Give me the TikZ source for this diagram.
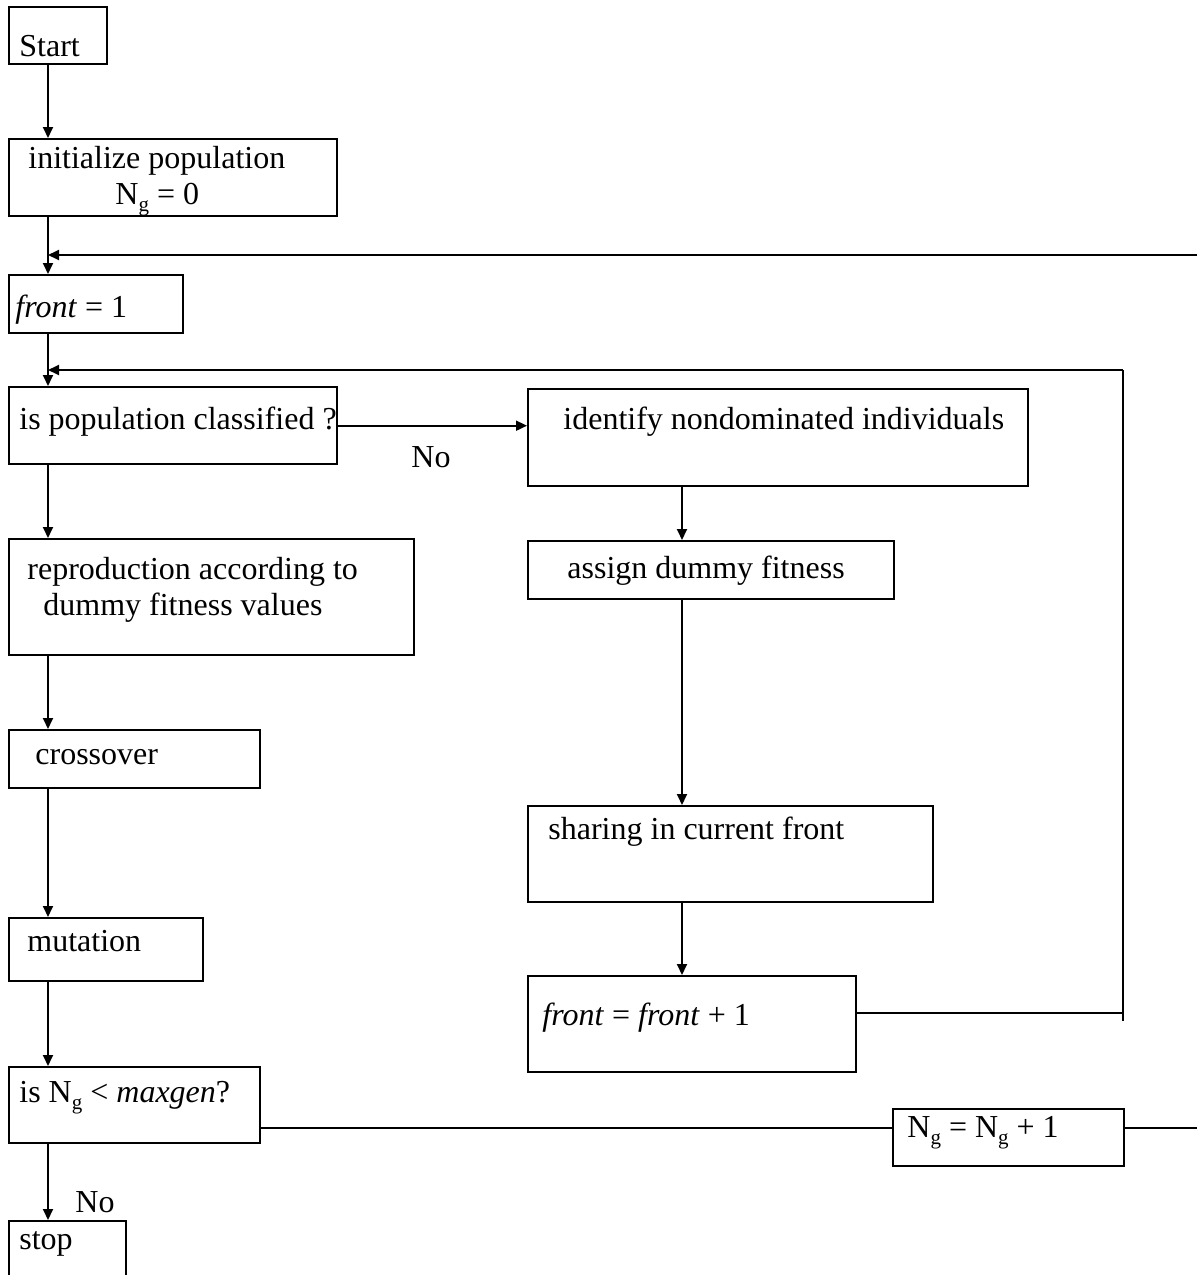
\documentclass[tikz,border=0pt]{standalone}
\usepackage{fontspec}
\setmainfont{Liberation Serif}
\usetikzlibrary{arrows.meta}
\newcommand{\Ng}{N\raisebox{-0.24em}{\fontsize{10.5}{12}\selectfont g}}
\begin{document}
\begin{tikzpicture}[x=0.5pt,y=-0.5pt,
  box/.style={draw, line width=1.2pt, inner sep=0pt, anchor=north west},
  txt/.style={anchor=base west, inner sep=0pt, font=\fontsize{16}{19}\selectfont},
  arr/.style={line width=0.9pt, -{Triangle[length=5.5pt,width=5pt]}},
  conn/.style={line width=0.9pt}]
\clip (0,0) rectangle (1197,1275);
\fill[white] (0,0) rectangle (1197,1275);
% column coordinates
\coordinate (colL) at (48,0);
\coordinate (colR) at (682,0);
% boxes
\node[box, minimum width=49pt, minimum height=28.5pt] (start) at (8,6) {};
\node[box, minimum width=164pt, minimum height=38.5pt] (init) at (8,138) {};
\node[box, minimum width=87pt, minimum height=29pt] (front1) at (8,274) {};
\node[box, minimum width=164pt, minimum height=38.5pt] (cls) at (8,386) {};
\node[box, minimum width=202.5pt, minimum height=58pt] (repro) at (8,538) {};
\node[box, minimum width=125.5pt, minimum height=29pt] (cross) at (8,729) {};
\node[box, minimum width=97pt, minimum height=31.5pt] (mut) at (8,917) {};
\node[box, minimum width=125.5pt, minimum height=38pt] (isng) at (8,1066) {};
\node[box, minimum width=58.5pt, minimum height=40pt] (stop) at (8,1220) {};
\node[box, minimum width=250pt, minimum height=48.5pt] (ident) at (527,388) {};
\node[box, minimum width=183pt, minimum height=29pt] (assign) at (527,540) {};
\node[box, minimum width=202.5pt, minimum height=48pt] (share) at (527,805) {};
\node[box, minimum width=164pt, minimum height=48pt] (fp1) at (527,975) {};
\node[box, minimum width=115.5pt, minimum height=28.5pt] (ngp) at (892,1108) {};
% texts
\node[txt] (tStart) at (19,56) {Start};
\node[txt] (tInit) at (28,168) {initialize population};
\node[txt] (tInit2) at (115,204) {\Ng{} = 0};
\node[txt] (tFront1) at (15,317) {\textit{front} = 1};
\node[txt] (tCls) at (19,429) {is population classified ?};
\node[txt] (tNo1) at (411,467) {No};
\node[txt] (tRepro) at (27,579) {reproduction according to};
\node[txt] (tRepro2) at (43,615) {dummy fitness values};
\node[txt] (tCross) at (35,764) {crossover};
\node[txt] (tMut) at (27,951) {mutation};
\node[txt] (tIsng) at (19,1102) {is \Ng{} < \textit{maxgen}?};
\node[txt] (tNo2) at (75,1212) {No};
\node[txt] (tStop) at (19,1249) {stop};
\node[txt] (tIdent) at (563,429) {identify nondominated individuals};
\node[txt] (tAssign) at (567,578) {assign dummy fitness};
\node[txt] (tShare) at (548,839) {sharing in current front};
\node[txt] (tFp1) at (542,1025) {\textit{front} = \textit{front} + 1};
\node[txt] (tNgp) at (907,1137) {\Ng{} = \Ng{} + 1};
% loop coordinates
\coordinate (topR) at (1197,255);
\coordinate (topL) at (48,255);
\coordinate (inR) at (1123,370);
\coordinate (inL) at (48,370);
\coordinate (inB) at (1123,1021);
\coordinate (fpR) at (1123,1013);
\coordinate (lineY) at (0,1128);
\coordinate (rbot) at (1197,1128);
% left column connectors
\draw[arr] (start.south -| colL) -- (init.north -| colL);
\draw[arr] (init.south -| colL) -- (front1.north -| colL);
\draw[arr] (front1.south -| colL) -- (cls.north -| colL);
\draw[arr] (cls.south -| colL) -- (repro.north -| colL);
\draw[arr] (repro.south -| colL) -- (cross.north -| colL);
\draw[arr] (cross.south -| colL) -- (mut.north -| colL);
\draw[arr] (mut.south -| colL) -- (isng.north -| colL);
\draw[arr] (isng.south -| colL) -- (stop.north -| colL);
% right column connectors
\draw[arr] (cls.east) -- (ident.west |- cls.east);
\draw[arr] (ident.south -| colR) -- (assign.north -| colR);
\draw[arr] (assign.south -| colR) -- (share.north -| colR);
\draw[arr] (share.south -| colR) -- (fp1.north -| colR);
% loops
\draw[arr] (topR) -- (topL);
\draw[conn] (fp1.east |- fpR) -- (fpR);
\draw[conn] (inB) -- (inR);
\draw[arr] (inR) -- (inL);
\draw[conn] (isng.east |- lineY) -- (ngp.west |- lineY);
\draw[conn] (ngp.east |- lineY) -- (rbot);
\end{tikzpicture}
\end{document}
